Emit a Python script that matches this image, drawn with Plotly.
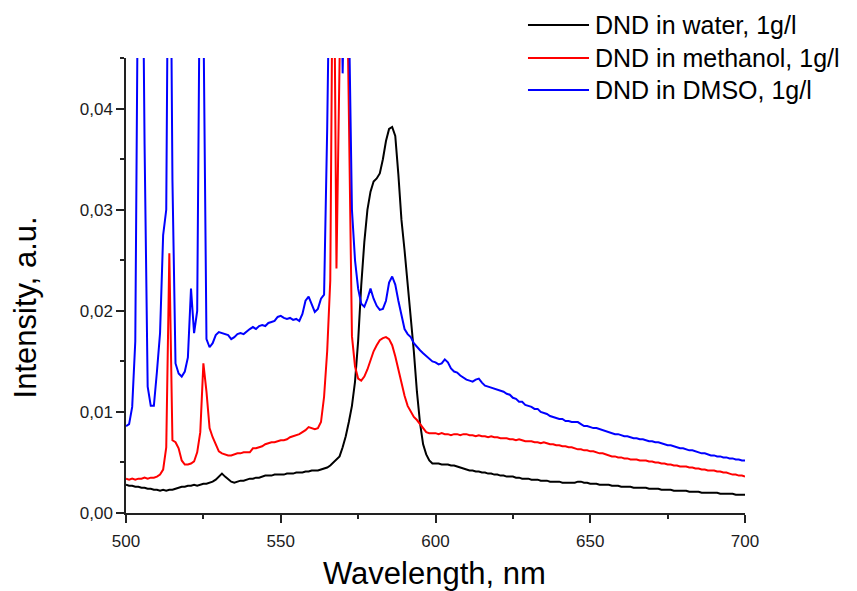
import plotly.graph_objects as go

# Wavelength grid, nm (1 nm steps)
wavelength = list(range(500, 701))

water = [
    0.0028, 0.0027, 0.0027, 0.0026, 0.0026, 0.0025, 0.0025, 0.0024, 0.0024, 0.0023,
    0.0023, 0.0022, 0.0023, 0.0022, 0.0023, 0.0023, 0.0024, 0.0025, 0.0026, 0.0026,
    0.0027, 0.0027, 0.0028, 0.0027, 0.0028, 0.0029, 0.0029, 0.0030, 0.0031, 0.0033,
    0.0036, 0.0039, 0.0036, 0.0033, 0.0031, 0.0030, 0.0031, 0.0032, 0.0032, 0.0033,
    0.0034, 0.0034, 0.0035, 0.0035, 0.0036, 0.0037, 0.0037, 0.0037, 0.0038, 0.0038,
    0.0038, 0.0038, 0.0039, 0.0039, 0.0039, 0.0040, 0.0040, 0.0040, 0.0041, 0.0041,
    0.0042, 0.0042, 0.0042, 0.0043, 0.0044, 0.0045, 0.0047, 0.0050, 0.0053, 0.0056,
    0.0065, 0.0076, 0.0090, 0.0106, 0.0130, 0.0170, 0.0225, 0.0268, 0.0300, 0.0318,
    0.0328, 0.0331, 0.0336, 0.0350, 0.0368, 0.0380, 0.0382, 0.0373, 0.0335, 0.0290,
    0.0260, 0.0228, 0.0195, 0.0160, 0.0120, 0.0089, 0.0068, 0.0058, 0.0052, 0.0049,
    0.0049, 0.0049, 0.0048, 0.0048, 0.0048, 0.0047, 0.0047, 0.0046, 0.0045, 0.0044,
    0.0043, 0.0042, 0.0042, 0.0041, 0.0041, 0.0040, 0.0040, 0.0039, 0.0039, 0.0038,
    0.0038, 0.0037, 0.0037, 0.0036, 0.0036, 0.0036, 0.0035, 0.0035, 0.0034, 0.0034,
    0.0034, 0.0033, 0.0033, 0.0033, 0.0032, 0.0032, 0.0032, 0.0031, 0.0031, 0.0031,
    0.0031, 0.0030, 0.0030, 0.0030, 0.0030, 0.0030, 0.0031, 0.0031, 0.0030, 0.0030,
    0.0029, 0.0029, 0.0029, 0.0028, 0.0028, 0.0028, 0.0028, 0.0027, 0.0027, 0.0027,
    0.0026, 0.0026, 0.0026, 0.0026, 0.0025, 0.0025, 0.0025, 0.0025, 0.0025, 0.0024,
    0.0024, 0.0024, 0.0024, 0.0023, 0.0023, 0.0023, 0.0023, 0.0022, 0.0022, 0.0022,
    0.0022, 0.0022, 0.0021, 0.0021, 0.0021, 0.0021, 0.0020, 0.0020, 0.0020, 0.0020,
    0.0020, 0.0020, 0.0019, 0.0019, 0.0019, 0.0019, 0.0019, 0.0018, 0.0018, 0.0018,
    0.0018,
]

methanol = [
    0.0034, 0.0033, 0.0034, 0.0033, 0.0034, 0.0034, 0.0035, 0.0034, 0.0035, 0.0035,
    0.0036, 0.0038, 0.0043, 0.0065, 0.0257, 0.0072, 0.0070, 0.0064, 0.0052, 0.0048,
    0.0048, 0.0049, 0.0051, 0.0060, 0.0080, 0.0148, 0.0120, 0.0084, 0.0075, 0.0068,
    0.0061, 0.0059, 0.0058, 0.0057, 0.0057, 0.0058, 0.0059, 0.0059, 0.0060, 0.0060,
    0.0060, 0.0064, 0.0064, 0.0065, 0.0066, 0.0068, 0.0069, 0.0070, 0.0070, 0.0071,
    0.0072, 0.0072, 0.0073, 0.0075, 0.0076, 0.0077, 0.0078, 0.0080, 0.0082, 0.0085,
    0.0084, 0.0083, 0.0084, 0.0090, 0.0115, 0.0160, 0.0230, 0.0650, 0.0242, 0.0600,
    0.0650, 0.0620, 0.0380, 0.0175, 0.0145, 0.0133, 0.0131, 0.0135, 0.0142, 0.0152,
    0.0160, 0.0166, 0.0171, 0.0173, 0.0174, 0.0172, 0.0166, 0.0155, 0.0141, 0.0127,
    0.0116, 0.0106, 0.0100, 0.0095, 0.0092, 0.0088, 0.0083, 0.0080, 0.0079, 0.0079,
    0.0079, 0.0078, 0.0079, 0.0078, 0.0078, 0.0077, 0.0078, 0.0078, 0.0077, 0.0078,
    0.0078, 0.0077, 0.0077, 0.0076, 0.0077, 0.0076, 0.0076, 0.0075, 0.0076, 0.0075,
    0.0075, 0.0074, 0.0074, 0.0074, 0.0073, 0.0073, 0.0072, 0.0073, 0.0072, 0.0071,
    0.0071, 0.0071, 0.0070, 0.0070, 0.0069, 0.0070, 0.0069, 0.0068, 0.0068, 0.0067,
    0.0067, 0.0066, 0.0066, 0.0065, 0.0065, 0.0064, 0.0063, 0.0063, 0.0062, 0.0062,
    0.0061, 0.0061, 0.0060, 0.0059, 0.0059, 0.0058, 0.0057, 0.0056, 0.0056, 0.0055,
    0.0055, 0.0054, 0.0054, 0.0053, 0.0053, 0.0053, 0.0052, 0.0052, 0.0052, 0.0051,
    0.0051, 0.0050, 0.0050, 0.0049, 0.0049, 0.0048, 0.0048, 0.0047, 0.0047, 0.0046,
    0.0046, 0.0046, 0.0045, 0.0045, 0.0044, 0.0044, 0.0043, 0.0043, 0.0042, 0.0042,
    0.0042, 0.0041, 0.0041, 0.0040, 0.0040, 0.0039, 0.0038, 0.0038, 0.0037, 0.0037,
    0.0036,
]

dmso = [
    0.0086, 0.0088, 0.0105, 0.0170, 0.0600, 0.0700, 0.0365, 0.0125, 0.0106, 0.0106,
    0.0140, 0.0178, 0.0275, 0.0300, 0.0750, 0.0330, 0.0148, 0.0138, 0.0135, 0.0140,
    0.0154, 0.0222, 0.0178, 0.0200, 0.0600, 0.0500, 0.0172, 0.0164, 0.0168, 0.0176,
    0.0179, 0.0178, 0.0177, 0.0176, 0.0172, 0.0174, 0.0177, 0.0178, 0.0177, 0.0180,
    0.0182, 0.0184, 0.0182, 0.0185, 0.0186, 0.0185, 0.0188, 0.0189, 0.0190, 0.0194,
    0.0195, 0.0193, 0.0192, 0.0193, 0.0191, 0.0192, 0.0190, 0.0197, 0.0210, 0.0214,
    0.0207, 0.0199, 0.0202, 0.0212, 0.0216, 0.0380, 0.0600, 0.0650, 0.0600, 0.0650,
    0.0435, 0.0600, 0.0500, 0.0300, 0.0250, 0.0222, 0.0207, 0.0204, 0.0212, 0.0222,
    0.0212, 0.0205, 0.0201, 0.0202, 0.0210, 0.0228, 0.0234, 0.0226, 0.0210, 0.0195,
    0.0182, 0.0177, 0.0174, 0.0168, 0.0164, 0.0161, 0.0158, 0.0155, 0.0152, 0.0150,
    0.0149, 0.0147, 0.0148, 0.0152, 0.0149, 0.0143, 0.0140, 0.0139, 0.0136, 0.0134,
    0.0132, 0.0131, 0.0130, 0.0132, 0.0133, 0.0129, 0.0126, 0.0125, 0.0124, 0.0123,
    0.0122, 0.0121, 0.0120, 0.0118, 0.0117, 0.0114, 0.0113, 0.0110, 0.0110, 0.0107,
    0.0106, 0.0105, 0.0103, 0.0103, 0.0100, 0.0099, 0.0098, 0.0096, 0.0095, 0.0094,
    0.0093, 0.0093, 0.0091, 0.0091, 0.0090, 0.0090, 0.0090, 0.0088, 0.0086, 0.0086,
    0.0085, 0.0084, 0.0084, 0.0083, 0.0082, 0.0081, 0.0080, 0.0079, 0.0078, 0.0078,
    0.0077, 0.0076, 0.0076, 0.0075, 0.0074, 0.0074, 0.0073, 0.0073, 0.0072, 0.0071,
    0.0071, 0.0070, 0.0070, 0.0069, 0.0068, 0.0067, 0.0067, 0.0066, 0.0065, 0.0064,
    0.0064, 0.0063, 0.0062, 0.0062, 0.0061, 0.0060, 0.0059, 0.0059, 0.0058, 0.0057,
    0.0057, 0.0056, 0.0056, 0.0055, 0.0055, 0.0054, 0.0054, 0.0053, 0.0053, 0.0052,
    0.0052,
]

series_names = ["DND in water, 1g/l", "DND in methanol, 1g/l", "DND in DMSO, 1g/l"]
series_colors = ["#000000", "#ff0000", "#0000ff"]
series_values = [water, methanol, dmso]

FONT = "Liberation Sans, Arial, sans-serif"

fig = go.Figure()
for name, color, vals in zip(series_names, series_colors, series_values):
    fig.add_trace(go.Scatter(
        x=wavelength, y=vals, mode="lines", name=name,
        line=dict(color=color, width=2), showlegend=False,
    ))

axis_common = dict(
    showline=True, linecolor="#222222", linewidth=1.5, mirror=False,
    showgrid=False, zeroline=False,
    ticks="outside", ticklen=8, tickwidth=1.5, tickcolor="#222222",
    tickfont=dict(family=FONT, size=17, color="#1c1c1c"),
)

fig.update_xaxes(
    range=[500, 700], dtick=50, tick0=500, ticklabelstandoff=4,
    minor=dict(ticks="outside", ticklen=4, tickwidth=1.5, tickcolor="#222222", dtick=25, tick0=500),
    **axis_common,
)
fig.update_yaxes(
    range=[0, 0.04502], dtick=0.01, tick0=0, tickformat=".2f",
    minor=dict(ticks="outside", ticklen=4, tickwidth=1.5, tickcolor="#222222", dtick=0.005, tick0=0),
    **axis_common,
)

# Legend drawn as line samples + labels
legend_rows_y = [1.0725, 1.0, 0.9297]
annotations = []
shapes = []
for name, color, yy in zip(series_names, series_colors, legend_rows_y):
    shapes.append(dict(type="line", xref="paper", yref="paper",
                       x0=0.6494, x1=0.7480, y0=yy, y1=yy,
                       line=dict(color=color, width=2)))
    annotations.append(dict(text=name, xref="paper", yref="paper",
                            x=0.7545, y=yy, xanchor="left", yanchor="middle",
                            showarrow=False,
                            font=dict(family=FONT, size=25, color="#000000")))

annotations.append(dict(text="Wavelength, nm", xref="paper", yref="paper",
                        x=0.4976, y=-0.133, xanchor="center", yanchor="middle",
                        showarrow=False,
                        font=dict(family=FONT, size=31, color="#000000")))
annotations.append(dict(text="Intensity, a.u.", xref="paper", yref="paper",
                        x=-0.163, y=0.452, xanchor="center", yanchor="middle",
                        textangle=-90, showarrow=False,
                        font=dict(family=FONT, size=31, color="#000000")))

fig.update_layout(
    width=857, height=591,
    margin=dict(l=126, r=112, t=58, b=78, pad=0),
    paper_bgcolor="white", plot_bgcolor="white",
    separators=",.",
    showlegend=False,
    annotations=annotations, shapes=shapes,
)

fig.write_html("out.html")
